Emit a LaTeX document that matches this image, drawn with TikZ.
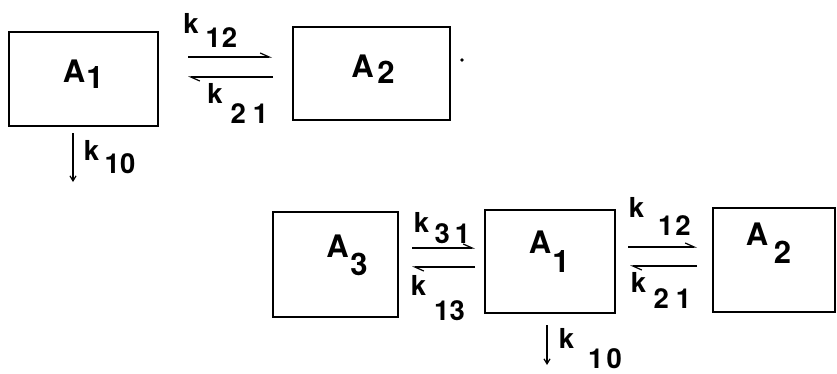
\documentclass[tikz,border=0pt]{standalone}
\usepackage{fontspec}
\setmainfont{TeX Gyre Heros}
\usetikzlibrary{arrows.meta}
\begin{document}
\begin{tikzpicture}[x=1pt,y=-1pt,
  box/.style={draw, line width=1.6pt, inner sep=0pt},
  big/.style={font=\fontsize{31}{33}\selectfont\bfseries, inner sep=0pt, anchor=base},
  lab/.style={font=\fontsize{27.5}{29}\selectfont\bfseries, inner sep=0pt, anchor=base},
  rate/.style={line width=1.2pt, -{Straight Barb[left,length=9pt,width=8pt]}},
  outflow/.style={line width=1.2pt, -{Straight Barb[length=5pt,width=6pt]}}]
\useasboundingbox (0,0) rectangle (837,373);
% ---------- top scheme ----------
\node[box, minimum width=149pt, minimum height=94pt] (tA1) at (83.5,79) {};
\node[box, minimum width=157pt, minimum height=93pt] (tA2) at (371.5,73.5) {};
\node[big] (tA1a) at (74,82) {A};
\node[big] (tA1b) at (95,88) {1};
\node[big] (tA2a) at (362.5,77) {A};
\node[big] (tA2b) at (386,83) {2};
\fill (462,60) circle (1.8pt);
\coordinate (t12s) at (188,57);
\coordinate (t12e) at (272,57);
\coordinate (t21s) at (273,77);
\coordinate (t21e) at (188,77);
\draw[rate] (t12s) -- (t12e);
\draw[rate] (t21s) -- (t21e);
\node[lab] (tk12) at (191,33) {k};
\node[lab] (tk12i) at (221.5,47) {1\kern1pt2};
\node[lab] (tk21) at (215,103) {k};
\node[lab] (tk21i) at (249.5,123) {2\kern7pt1};
\coordinate (t10s) at (73,133);
\coordinate (t10e) at (73,182);
\draw[outflow] (t10s) -- (t10e);
\node[lab] (tk10) at (91.5,160) {k};
\node[lab] (tk10i) at (120,173) {10};
% ---------- bottom scheme ----------
\node[box, minimum width=125pt, minimum height=105pt] (bA3) at (335.5,264.5) {};
\node[box, minimum width=130pt, minimum height=103pt] (bA1) at (550,261.5) {};
\node[box, minimum width=122pt, minimum height=104pt] (bA2) at (774,260) {};
\node[big] (bA3a) at (337.5,257) {A};
\node[big] (bA3b) at (359,275) {3};
\node[big] (bA1a) at (540,253) {A};
\node[big] (bA1b) at (561,272) {1};
\node[big] (bA2a) at (757,245) {A};
\node[big] (bA2b) at (782.5,263) {2};
\coordinate (b31s) at (412,248);
\coordinate (b31e) at (475,248);
\coordinate (b13s) at (475,267);
\coordinate (b13e) at (412,267);
\draw[rate] (b31s) -- (b31e);
\draw[rate] (b13s) -- (b13e);
\node[lab] (bk31) at (421.5,232) {k};
\node[lab] (bk31i) at (452.5,243) {3\kern5pt1};
\node[lab] (bk13) at (418.5,295) {k};
\node[lab] (bk13i) at (449.5,320) {13};
\coordinate (b12s) at (628,247);
\coordinate (b12e) at (697,247);
\coordinate (b21s) at (697,266);
\coordinate (b21e) at (630,266);
\draw[rate] (b12s) -- (b12e);
\draw[rate] (b21s) -- (b21e);
\node[lab] (bk12) at (636.5,217) {k};
\node[lab] (bk12i) at (674.5,235) {1\kern2pt2};
\node[lab] (bk21) at (638.5,292) {k};
\node[lab] (bk21i) at (672.5,308) {2\kern7pt1};
\coordinate (b10s) at (547,325);
\coordinate (b10e) at (547,365);
\draw[outflow] (b10s) -- (b10e);
\node[lab] (bk10) at (566.5,348) {k};
\node[lab] (bk10i) at (605,368) {1\kern3pt0};
\end{tikzpicture}
\end{document}
